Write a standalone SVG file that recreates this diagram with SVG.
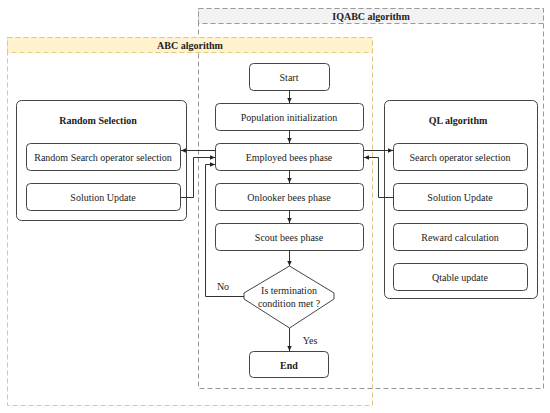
<svg xmlns="http://www.w3.org/2000/svg" width="550" height="413" viewBox="0 0 550 413" font-family="'Liberation Serif', 'Times New Roman', serif">
<defs>
<marker id="ah" viewBox="0 0 10 10" refX="9" refY="5" markerWidth="6" markerHeight="6" orient="auto" markerUnits="userSpaceOnUse">
<path d="M0,1 L9,5 L0,9 z" fill="#222"/>
</marker>
<style>
text{font-family:'Liberation Serif','Times New Roman',serif;font-size:10px;fill:#222;text-anchor:middle;dominant-baseline:central}
.b{font-weight:bold}
.box{fill:#fff;stroke:#444;stroke-width:1}
.cont{fill:#fff;stroke:#444;stroke-width:1}
.arr{fill:none;stroke:#333;stroke-width:1;marker-end:url(#ah)}
</style>
</defs>
<rect width="550" height="413" fill="#fff"/>
<g id="iqabc">
<rect x="198.5" y="8.5" width="345" height="380" fill="none" stroke="#999" stroke-dasharray="5,3"/>
<rect x="198.5" y="8.5" width="345" height="15" fill="#f2f2f2" stroke="#999" stroke-dasharray="5,3"/>
<text class="b" x="371" y="16">IQABC algorithm</text>
</g>
<g id="abc">
<rect x="7.5" y="37.5" width="365" height="368" fill="none" stroke="#e0c97a" stroke-dasharray="5,3"/>
<rect x="7.5" y="37.5" width="365" height="15" fill="#fff2cc" stroke="#e0c97a" stroke-dasharray="5,3"/>
<text class="b" x="190" y="45">ABC algorithm</text>
</g>
<g id="random-selection">
<rect class="cont" x="16.5" y="100.5" width="170" height="120" rx="5"/>
<text class="b" x="98" y="120">Random Selection</text>
</g>
<g id="random-search">
<rect class="box" x="26.5" y="143.5" width="154" height="27" rx="4"/>
<text x="103" y="157">Random Search operator selection</text>
</g>
<g id="rs-solution-update">
<rect class="box" x="26.5" y="183.5" width="154" height="27" rx="4"/>
<text x="103" y="197">Solution Update</text>
</g>
<g id="ql">
<rect class="cont" x="384.5" y="100.5" width="153" height="198" rx="5"/>
<text class="b" x="458" y="120">QL algorithm</text>
</g>
<g id="search-op">
<rect class="box" x="393.5" y="143.5" width="134" height="27" rx="4"/>
<text x="460" y="157">Search operator selection</text>
</g>
<g id="ql-solution-update">
<rect class="box" x="393.5" y="183.5" width="134" height="27" rx="4"/>
<text x="460" y="197">Solution Update</text>
</g>
<g id="reward">
<rect class="box" x="393.5" y="223.5" width="134" height="27" rx="4"/>
<text x="460" y="237">Reward calculation</text>
</g>
<g id="qtable">
<rect class="box" x="393.5" y="263.5" width="134" height="27" rx="4"/>
<text x="460" y="277">Qtable update</text>
</g>
<g id="start">
<rect class="box" x="249.5" y="63.5" width="80" height="27" rx="4"/>
<text x="289" y="77">Start</text>
</g>
<g id="pop-init">
<rect class="box" x="215.5" y="103.5" width="148" height="27" rx="4"/>
<text x="289" y="117">Population initialization</text>
</g>
<g id="employed">
<rect class="box" x="215.5" y="143.5" width="148" height="27" rx="4"/>
<text x="289" y="157">Employed bees phase</text>
</g>
<g id="onlooker">
<rect class="box" x="215.5" y="183.5" width="148" height="27" rx="4"/>
<text x="289" y="197">Onlooker bees phase</text>
</g>
<g id="scout">
<rect class="box" x="215.5" y="223.5" width="148" height="27" rx="4"/>
<text x="289" y="237">Scout bees phase</text>
</g>
<g id="decision">
<path class="box" d="M289.5,266 L334,293 L334,299 L289.5,328 L244,299 L244,293 Z" stroke-linejoin="round"/>
<text x="289" y="290">Is termination</text>
<text x="289" y="303">condition met ?</text>
</g>
<g id="end">
<rect class="box" x="249.5" y="351.5" width="79" height="26" rx="4"/>
<text class="b" x="289" y="365">End</text>
</g>
<g id="connectors">
<path class="arr" d="M289.5,90.5 V103"/>
<path class="arr" d="M289.5,130.5 V143"/>
<path class="arr" d="M289.5,170.5 V183"/>
<path class="arr" d="M289.5,210.5 V223"/>
<path class="arr" d="M289.5,250.5 V266"/>
<path class="arr" d="M289.5,328 V351"/>
<path class="arr" d="M215.5,150.5 H181"/>
<path class="arr" d="M180.5,197.5 H193.5 V157.5 H215"/>
<path class="arr" d="M244,296.5 H205.5 V164.5 H215"/>
<path class="arr" d="M363.5,150.5 H393"/>
<path class="arr" d="M393.5,197.5 H378.5 V157.5 H364"/>
<text x="223" y="286">No</text>
<text x="310" y="340">Yes</text>
</g>
</svg>
